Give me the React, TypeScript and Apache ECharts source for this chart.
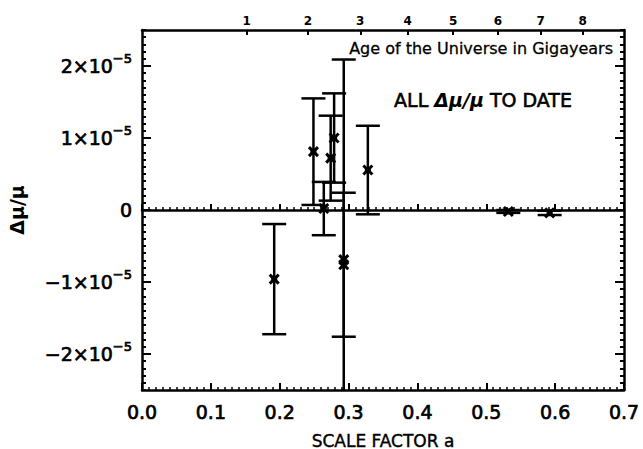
import React, { useEffect, useRef } from "react";
import * as echarts from "echarts";

// Scale factor a of each measurement
const scaleFactor = [0.192, 0.249, 0.264, 0.274, 0.279, 0.293, 0.293, 0.328, 0.532, 0.592];
// Δμ/μ in units of 1e-5
const deltaMu = [-0.96, 0.81, 0.02, 0.72, 1.0, -0.69, -0.76, 0.555, -0.02, -0.04];
// 1-sigma error in units of 1e-5
const errorBar = [0.765, 0.74, 0.37, 0.59, 0.62, 2.78, 1.0, 0.615, 0.02, 0.03];

// Top axis: age of the universe (Gyr) and its position in scale factor
const ageLabels = ["1", "2", "3", "4", "5", "6", "7", "8"];
const agePositions = [0.152, 0.241, 0.317, 0.386, 0.452, 0.517, 0.579, 0.64];

const yTicks = [-2, -1, 0, 1, 2];

const Y_MIN = -2.5;
const Y_MAX = 2.5;
const FONT = "DejaVu Sans";

export default function App() {
  const ref = useRef<HTMLDivElement>(null);

  useEffect(() => {
    if (!ref.current) return;
    const chart = echarts.init(ref.current, null, { renderer: "svg" });

    const data = scaleFactor.map((a, i) => [a, deltaMu[i], errorBar[i]]);

    const black = "#000";
    const thick = { textBorderColor: black, textBorderWidth: 0.7 };

    const option: any = {
      animation: false,
      backgroundColor: "#fff",
      grid: { left: 142, right: 19, top: 30, bottom: 59, containLabel: false, outerBoundsMode: "none" },
      xAxis: [
        {
          type: "value",
          position: "bottom",
          min: 0,
          max: 0.7,
          interval: 0.1,
          name: "SCALE FACTOR a",
          nameLocation: "middle",
          nameGap: 42,
          nameTextStyle: { fontFamily: FONT, fontSize: 17, color: black, textBorderColor: black, textBorderWidth: 0.4 },
          axisLine: { show: true, onZero: false, lineStyle: { color: black, width: 2.5 } },
          axisTick: { show: true, inside: true, length: 7, lineStyle: { color: black, width: 2 } },
          minorTick: { show: true, splitNumber: 10, length: 3, lineStyle: { color: black, width: 1.5 } },
          axisLabel: {
            margin: 12,
            fontFamily: FONT,
            fontSize: 19,
            color: black,
            ...thick,
            formatter: (v: number) => v.toFixed(1),
          },
          splitLine: { show: false },
        },
        {
          type: "value",
          position: "top",
          min: 0,
          max: 0.7,
          axisLine: { show: true, onZero: false, lineStyle: { color: black, width: 2.5 } },
          axisTick: {
            show: true,
            inside: true,
            length: 5,
            customValues: agePositions,
            lineStyle: { color: black, width: 2 },
          },
          axisLabel: {
            show: true,
            customValues: agePositions,
            margin: 3,
            fontFamily: FONT,
            fontSize: 12,
            fontWeight: "bold",
            color: black,
            formatter: (v: number) => {
              let best = 0;
              agePositions.forEach((p, i) => {
                if (Math.abs(p - v) < Math.abs(agePositions[best] - v)) best = i;
              });
              return ageLabels[best];
            },
          },
          splitLine: { show: false },
        },
        {
          type: "value",
          position: "bottom",
          min: 0,
          max: 0.7,
          interval: 0.1,
          axisLine: { show: true, onZero: true, lineStyle: { color: black, width: 2.5 } },
          axisTick: { show: true, inside: true, length: 6, lineStyle: { color: black, width: 2 } },
          minorTick: { show: true, splitNumber: 10, length: 3, lineStyle: { color: black, width: 1.5 } },
          axisLabel: { show: false },
          splitLine: { show: false },
        },
      ],
      yAxis: [
        {
          type: "value",
          position: "left",
          min: Y_MIN,
          max: Y_MAX,
          name: "Δμ/μ",
          nameLocation: "middle",
          nameGap: 116,
          nameRotate: 90,
          nameTextStyle: { fontFamily: FONT, fontSize: 19, fontWeight: "bold", color: black },
          axisLine: { show: true, onZero: false, lineStyle: { color: black, width: 2.5 } },
          axisTick: {
            show: true,
            inside: true,
            length: 9,
            customValues: yTicks,
            lineStyle: { color: black, width: 2 },
          },
          axisLabel: {
            show: true,
            customValues: yTicks,
            margin: 10,
            formatter: (v: number) => {
              if (v === 0) return "{m|0}";
              const s = (v < 0 ? "−" : "") + Math.abs(v);
              return `{m|${s}×10}{s|−5}`;
            },
            rich: {
              m: { fontFamily: FONT, fontSize: 19, color: black, lineHeight: 28, ...thick },
              s: { fontFamily: FONT, fontSize: 13, color: black, lineHeight: 13, verticalAlign: "top", ...thick },
            },
          },
          splitLine: { show: false },
        },
        {
          type: "value",
          position: "right",
          min: Y_MIN,
          max: Y_MAX,
          axisLine: { show: true, onZero: false, lineStyle: { color: black, width: 2.5 } },
          axisTick: {
            show: true,
            inside: true,
            length: 9,
            customValues: yTicks,
            lineStyle: { color: black, width: 2 },
          },
          axisLabel: { show: false },
          splitLine: { show: false },
        },
        {
          type: "value",
          position: "left",
          min: Y_MIN,
          max: Y_MAX,
          interval: 0.1,
          axisLine: { show: false, onZero: false },
          axisTick: { show: true, inside: true, length: 4, lineStyle: { color: black, width: 2 } },
          axisLabel: { show: false },
          splitLine: { show: false },
        },
        {
          type: "value",
          position: "right",
          min: Y_MIN,
          max: Y_MAX,
          interval: 0.1,
          axisLine: { show: false, onZero: false },
          axisTick: { show: true, inside: true, length: 4, lineStyle: { color: black, width: 2 } },
          axisLabel: { show: false },
          splitLine: { show: false },
        },
      ],
      graphic: [
        {
          type: "text",
          x: 613,
          y: 48,
          style: {
            text: "Age of the Universe in Gigayears",
            fontFamily: FONT,
            fontSize: 16,
            fill: black,
            stroke: black,
            lineWidth: 0.3,
            align: "right",
            verticalAlign: "middle",
          },
        },
        {
          type: "text",
          x: 483,
          y: 100,
          style: {
            text: "{a|ALL }{b|Δμ/μ}{a| TO DATE}",
            rich: {
              a: { fontFamily: FONT, fontSize: 19, fill: black, stroke: black, lineWidth: 0.6 },
              b: { fontFamily: FONT, fontSize: 19, fill: black, fontWeight: "bold", fontStyle: "italic" },
            },
            align: "center",
            verticalAlign: "middle",
          },
        },
      ],
      series: [
        {
          type: "custom",
          xAxisIndex: 0,
          yAxisIndex: 0,
          data,
          clip: true,
          renderItem: (params: any, api: any) => {
            const x = api.value(0);
            const y = api.value(1);
            const e = api.value(2);
            const hiRaw = y + e;
            const loRaw = y - e;
            const hi = Math.min(hiRaw, Y_MAX);
            const lo = Math.max(loRaw, Y_MIN);
            const pc = api.coord([x, y]);
            const ph = api.coord([x, hi]);
            const pl = api.coord([x, lo]);
            const cw = 12;
            const st = { stroke: black, lineWidth: 2.5 };
            const children: any[] = [
              { type: "line", shape: { x1: ph[0], y1: ph[1], x2: pl[0], y2: pl[1] }, style: st },
            ];
            if (hiRaw <= Y_MAX) {
              children.push({
                type: "line",
                shape: { x1: ph[0] - cw, y1: ph[1], x2: ph[0] + cw, y2: ph[1] },
                style: st,
              });
            }
            if (loRaw >= Y_MIN) {
              children.push({
                type: "line",
                shape: { x1: pl[0] - cw, y1: pl[1], x2: pl[0] + cw, y2: pl[1] },
                style: st,
              });
            }
            const m = 4.5;
            const ms = { stroke: black, lineWidth: 3 };
            children.push({
              type: "line",
              shape: { x1: pc[0] - m, y1: pc[1] - m, x2: pc[0] + m, y2: pc[1] + m },
              style: ms,
            });
            children.push({
              type: "line",
              shape: { x1: pc[0] - m, y1: pc[1] + m, x2: pc[0] + m, y2: pc[1] - m },
              style: ms,
            });
            children.push({
              type: "rect",
              shape: { x: pc[0] - 3, y: pc[1] - 3, width: 6, height: 6 },
              style: { fill: black },
            });
            return { type: "group", children };
          },
        },
      ],
    };

    chart.setOption(option);
    return () => chart.dispose();
  }, []);

  return (
    <div
      ref={ref}
      style={{ position: "fixed", left: 0, top: 0, width: 643, height: 449, background: "#fff" }}
    />
  );
}
